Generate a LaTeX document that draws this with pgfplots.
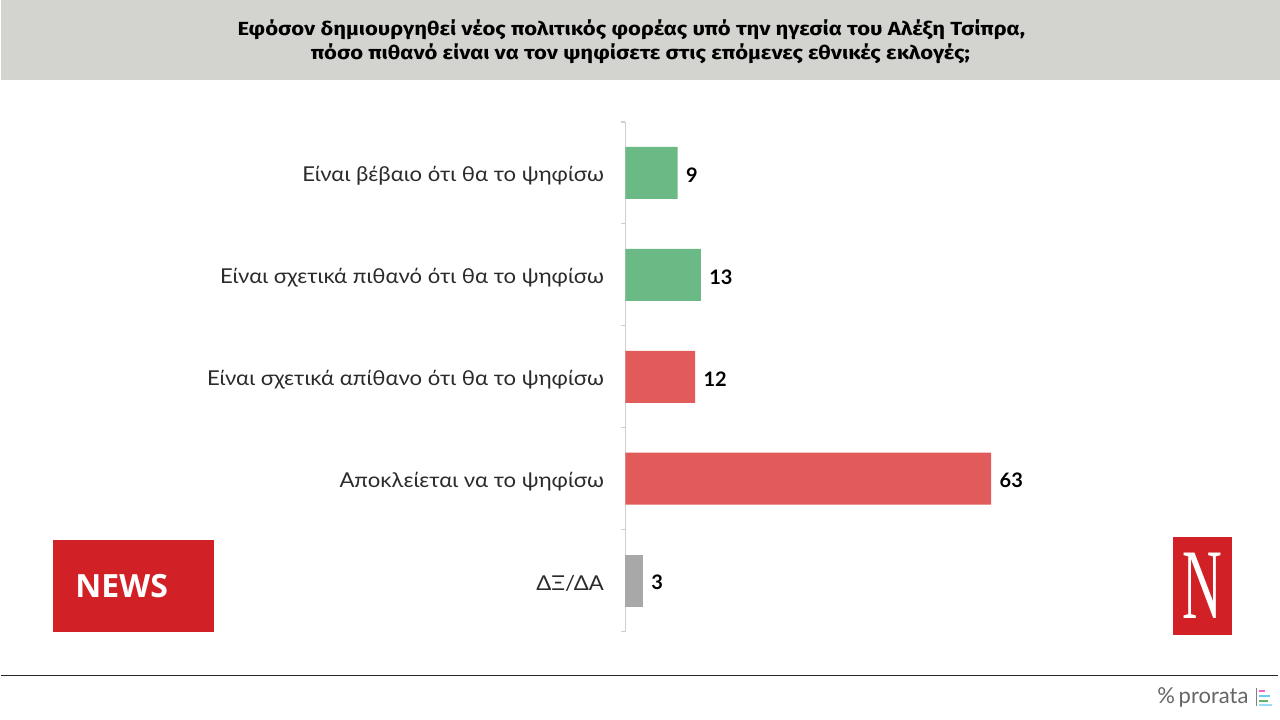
\documentclass[border=0pt]{standalone}
\usepackage{pgfplots}
\pgfplotsset{compat=1.18}
\usepackage{fontspec}
\setmainfont{Lato}
\newfontfamily\titlefont[FakeStretch=1.16]{Fira Sans}
\newfontfamily\lblfont[FakeStretch=1.08]{Lato}
\newfontfamily\newsfont{Open Sans}
\newfontfamily\serifN{Liberation Serif}
\definecolor{hdr}{HTML}{D3D3CF}
\definecolor{grn}{HTML}{6BBA85}
\definecolor{rd}{HTML}{E15B5B}
\definecolor{gr}{HTML}{A8A8A8}
\definecolor{axgray}{HTML}{D0D0D0}
\definecolor{newsred}{HTML}{D22027}
\definecolor{lbl}{HTML}{2B2B2B}
\begin{document}
\begin{tikzpicture}[x=1pt,y=1pt]
\fill[white] (0,0) rectangle (1280,720);
\fill[hdr] (0,640) rectangle (1280,720);
\node[font=\titlefont\bfseries\fontsize{19}{22}\selectfont, text=black] at (631,690) {Εφόσον δημιουργηθεί νέος πολιτικός φορέας υπό την ηγεσία του Αλέξη Τσίπρα,};
\node[font=\titlefont\bfseries\fontsize{19}{22}\selectfont, text=black] at (640,666) {πόσο πιθανό είναι να τον ψηφίσετε στις επόμενες εθνικές εκλογές;};
\draw[line width=1.5pt, black!85] (0,44) -- (1278,44);
% NEWS logo
\fill[newsred] (52,88) rectangle (213,180);
\node[text=white, font=\newsfont\bfseries\fontsize{32}{34}\selectfont] at (121,134) {NEWS};
% N logo
\fill[newsred] (1173,85) rectangle (1232,183);
\node[text=white, font=\serifN\fontsize{100}{100}\selectfont, xscale=0.55] at (1202.5,134) {N};
% prorata
\node[text=black!60, font=\fontsize{22}{24}\selectfont, anchor=east] at (1252,22) {\%\,prorata};
\draw[line width=1pt, black!50] (1256,14) -- (1256,32);
\fill[magenta!60] (1259,28) rectangle (1265,30);
\fill[cyan!60] (1259,23) rectangle (1270,25);
\fill[green!50!black!60] (1259,18) rectangle (1268,20);
\fill[cyan!40] (1259,14) rectangle (1272,16);
\begin{axis}[
  at={(625pt,88pt)}, anchor=south west,
  scale only axis, width=581pt, height=510pt,
  xmin=0, xmax=100, ymin=-0.5, ymax=4.5,
  y dir=reverse,
  xbar, bar width=52pt, bar shift=0pt,
  axis x line=none,
  axis y line=left,
  y axis line style={-, draw=axgray, line width=1.5pt},
  ytick={0,1,2,3,4},
  yticklabels={Είναι βέβαιο ότι θα το ψηφίσω, Είναι σχετικά πιθανό ότι θα το ψηφίσω, Είναι σχετικά απίθανο ότι θα το ψηφίσω, Αποκλείεται να το ψηφίσω, ΔΞ/ΔΑ},
  major tick length=0pt,
  yticklabel style={font=\lblfont\fontsize{20.5}{23}\selectfont, text=lbl, xshift=-18pt, yshift=-3pt},
  extra y ticks={-0.5,0.5,1.5,2.5,3.5,4.5},
  extra y tick labels={},
  extra y tick style={major tick length=4pt, tick align=outside, tick style={draw=axgray, line width=1.2pt}},
  nodes near coords,
  every node near coord/.append style={font=\bfseries\fontsize{20}{22}\selectfont, text=black, xshift=5pt, yshift=-2pt, /pgf/number format/assume math mode=true},
  clip=false,
]
\addplot[fill=grn, draw=none] coordinates {(9,0) (13,1)};
\addplot[fill=rd, draw=none] coordinates {(12,2) (63,3)};
\addplot[fill=gr, draw=none] coordinates {(3,4)};
\end{axis}
\end{tikzpicture}
\end{document}
